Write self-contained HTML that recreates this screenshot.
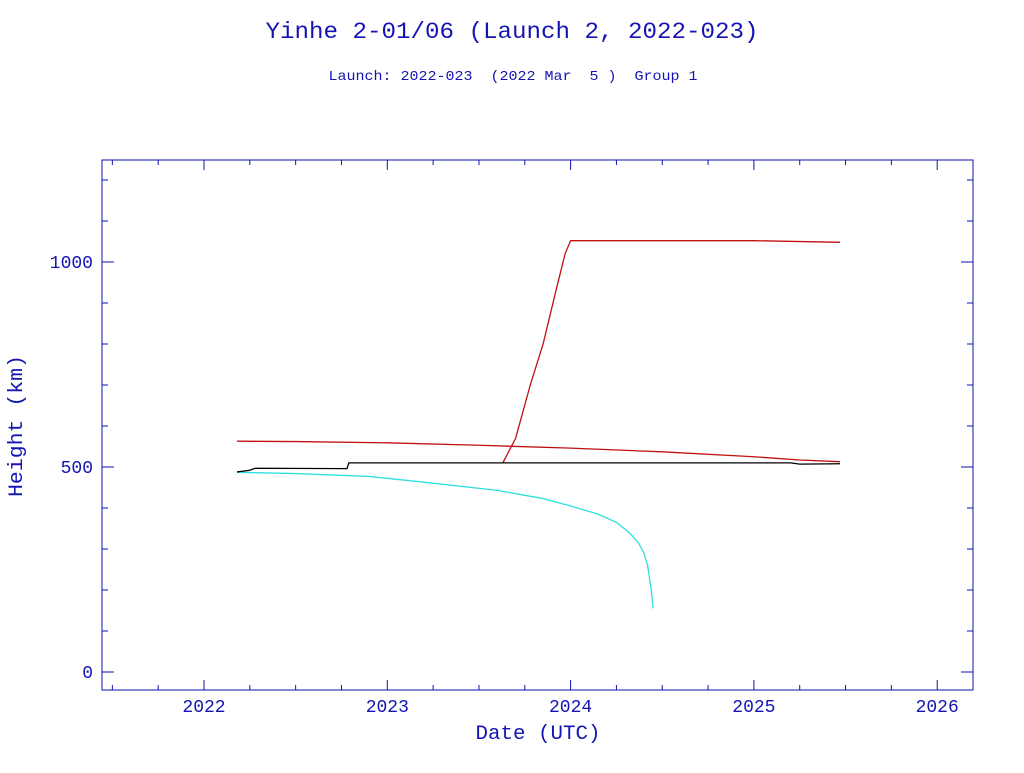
<!DOCTYPE html>
<html><head><meta charset="utf-8"><style>
body{margin:0;background:#fff;}
svg text{font-family:"Liberation Mono",monospace;fill:#1414b4;white-space:pre;}
</style></head><body>
<svg width="1024" height="768" xmlns="http://www.w3.org/2000/svg">
<text x="512" y="38" text-anchor="middle" font-size="23.5" textLength="493" lengthAdjust="spacingAndGlyphs">Yinhe 2-01/06 (Launch 2, 2022-023)</text>
<text x="513" y="80" text-anchor="middle" font-size="14" textLength="369" lengthAdjust="spacingAndGlyphs">Launch: 2022-023  (2022 Mar  5 )  Group 1</text>
<rect x="102" y="160" width="871" height="530" fill="none" stroke="#1010b0" stroke-width="1"/>
<g id="axes"></g>
<g id="series"></g>
<text x="538" y="739" text-anchor="middle" font-size="20.5" textLength="125" lengthAdjust="spacingAndGlyphs">Date (UTC)</text>
<text transform="translate(22,426) rotate(-90)" text-anchor="middle" font-size="20.5" textLength="142" lengthAdjust="spacingAndGlyphs">Height (km)</text>
</svg>
<script>
const xTickLabels=[2022,2023,2024,2025,2026];
const yTickLabels=[0,500,1000];
const redHighX=[2023.63,2023.70,2023.78,2023.85,2023.92,2023.97,2024.0,2025.0,2025.47];
const redHighY=[510,570,700,800,930,1020,1052,1052,1048];
const redLowX=[2022.18,2022.5,2023.0,2023.5,2024.0,2024.5,2025.0,2025.25,2025.47];
const redLowY=[563,562,559,553,546,537,525,517,513];
const blackX=[2022.18,2022.25,2022.28,2022.78,2022.79,2025.2,2025.25,2025.47];
const blackY=[488,492,497,496,510,510,507,508];
const cyanX=[2022.18,2022.5,2022.9,2023.2,2023.6,2023.85,2024.0,2024.15,2024.25,2024.32,2024.37,2024.40,2024.42,2024.44,2024.45];
const cyanY=[487,484,477,463,443,423,405,385,365,340,315,290,260,200,155];
const NS="http://www.w3.org/2000/svg";
const sx=v=>204+(v-2022)*183.3;
const sy=v=>672-v*0.41;
const axes=document.getElementById('axes');
function ln(x1,y1,x2,y2,name){const l=document.createElementNS(NS,'line');
l.setAttribute('x1',x1);l.setAttribute('y1',y1);l.setAttribute('x2',x2);l.setAttribute('y2',y2);
l.setAttribute('stroke','#1010b0');


axes.appendChild(l);}
function tx(x,y,s,anchor,name){const t=document.createElementNS(NS,'text');
t.setAttribute('x',x);t.setAttribute('y',y);t.setAttribute('text-anchor',anchor);t.setAttribute('font-size','18');t.textContent=s;


axes.appendChild(t);}
for(let q=2021.5;q<=2026.2;q+=0.25){const x=sx(q);if(x<103||x>972)continue;
const major=Math.abs(q-Math.round(q))<1e-6;const L=major?10:5;
ln(x,690,x,690-L,'x-tick');ln(x,160,x,160+L,'x-tick-top');}
xTickLabels.forEach(v=>tx(sx(v),712,String(v),'middle','x-tick-label'));
for(let v=0;v<=1200;v+=100){const y=sy(v);const major=v%500===0;const L=major?12:6;
ln(102,y,102+L,y,'y-tick');ln(973,y,973-L,y,'y-tick-right');}
yTickLabels.forEach(v=>tx(93,sy(v)+6,String(v),'end','y-tick-label'));
const ser=document.getElementById('series');
function line(xs,ys,color,name){const p=document.createElementNS(NS,'polyline');
p.setAttribute('points',xs.map((x,i)=>sx(x)+','+sy(ys[i])).join(' '));
p.setAttribute('fill','none');p.setAttribute('stroke',color);p.setAttribute('stroke-width','1.3');


ser.appendChild(p);}
line(cyanX,cyanY,'#30e0e0','cyan-series');
line(redLowX,redLowY,'#c01010','red-low-series');
line(redHighX,redHighY,'#c01010','red-high-series');
line(blackX,blackY,'#000000','black-series');
</script>
</body></html>
